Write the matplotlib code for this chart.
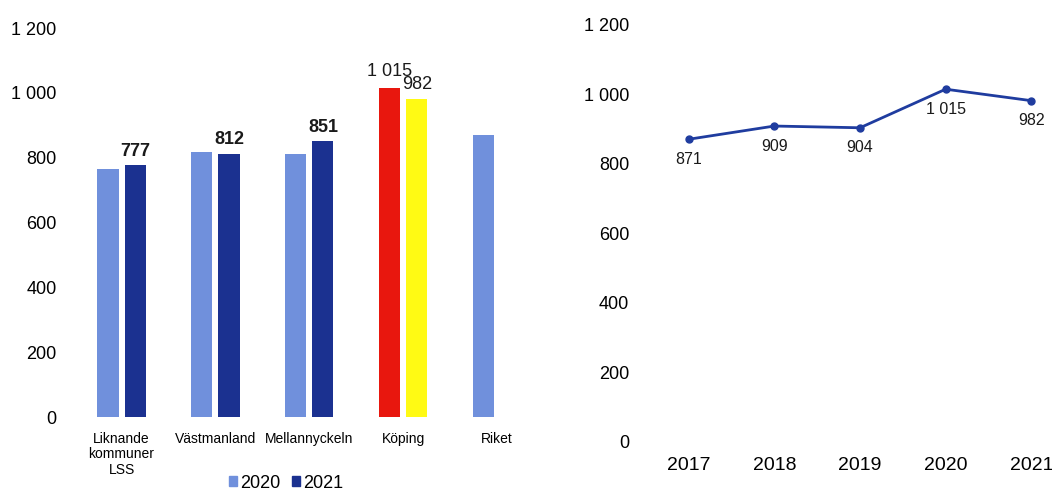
import matplotlib.pyplot as plt
import numpy as np
from matplotlib.patches import Patch

plt.rcParams['font.family'] = ['Liberation Sans', 'DejaVu Sans']

# left chart data
categories = ['Liknande\nkommuner\nLSS', 'Västmanland', 'Mellannyckeln', 'Köping', 'Riket']
v2020 = [764, 817, 812, 1015, 871]
v2021 = [777, 812, 851, 982, np.nan]
labels2021 = ['777', '812', '851', '982', '']

# right chart data
years = ['2017', '2018', '2019', '2020', '2021']
koping = [871, 909, 904, 1015, 982]
koping_labels = ['871', '909', '904', '1 015', '982']

c2020 = '#7090DC'
c2021 = '#1B3190'
c_red = '#E8170E'
c_yel = '#FFFA14'
c_line = '#1F3C9F'

fig = plt.figure(figsize=(10.52, 4.93), dpi=100)

def space_fmt(v, pos):
    return f'{int(v):,}'.replace(',', ' ')

# ---- bar chart
ax = fig.add_axes([0.071, 0.154, 0.446, 0.789])
x = np.arange(len(categories))
w = 0.225
off = 0.145
cols20 = [c2020] * len(categories)
cols21 = [c2021] * len(categories)
cols20[3] = c_red
cols21[3] = c_yel
ax.bar(x - off, v2020, w, color=cols20)
ax.bar(x + off, v2021, w, color=cols21)
for i in range(len(categories)):
    if labels2021[i]:
        ax.annotate(labels2021[i], (x[i] + off, v2021[i]), xytext=(0, 4),
                    textcoords='offset points', ha='center', va='bottom',
                    fontsize=13, fontweight='bold' if i < 3 else 'normal', color='#1a1a1a')
ax.annotate('1 015', (x[3] - off, v2020[3]), xytext=(0, 6),
            textcoords='offset points', ha='center', va='bottom', fontsize=13, color='#1a1a1a')
ax.set_xlim(-0.5, len(categories) - 0.5)
ax.set_ylim(0, 1200)
ax.set_yticks(np.arange(0, 1201, 200))
ax.yaxis.set_major_formatter(plt.FuncFormatter(space_fmt))
ax.set_xticks(x)
ax.set_xticklabels(categories, fontsize=10, linespacing=1.1, va='top')
ax.tick_params(axis='y', length=0, pad=13, labelsize=13)
ax.tick_params(axis='x', length=0, pad=11)
for s in ax.spines.values():
    s.set_visible(False)
fig.legend(handles=[Patch(color=c2020, label='2020'), Patch(color=c2021, label='2021')],
           loc='center', bbox_to_anchor=(0.272, 0.02), ncol=2, frameon=False,
           fontsize=13, handlelength=0.45, handleheight=0.45, handletextpad=0.2,
           columnspacing=0.6)

# ---- line chart
ax2 = fig.add_axes([0.614, 0.1035, 0.407, 0.846])
xs = np.arange(len(years))
ax2.plot(xs, koping, color=c_line, lw=2, marker='o', ms=5)
for i, lab in enumerate(koping_labels):
    ax2.annotate(lab, (xs[i], koping[i]), xytext=(0, -9), textcoords='offset points',
                 ha='center', va='top', fontsize=11.5, color='#1a1a1a')
ax2.set_xlim(-0.5, len(years) - 0.5)
ax2.set_ylim(0, 1200)
ax2.set_yticks(np.arange(0, 1201, 200))
ax2.yaxis.set_major_formatter(plt.FuncFormatter(space_fmt))
ax2.set_xticks(xs)
ax2.set_xticklabels(years, fontsize=14)
ax2.tick_params(axis='y', length=0, pad=12, labelsize=13)
ax2.tick_params(axis='x', length=0, pad=11)
for s in ax2.spines.values():
    s.set_visible(False)

fig.savefig('out.png', dpi=100)
